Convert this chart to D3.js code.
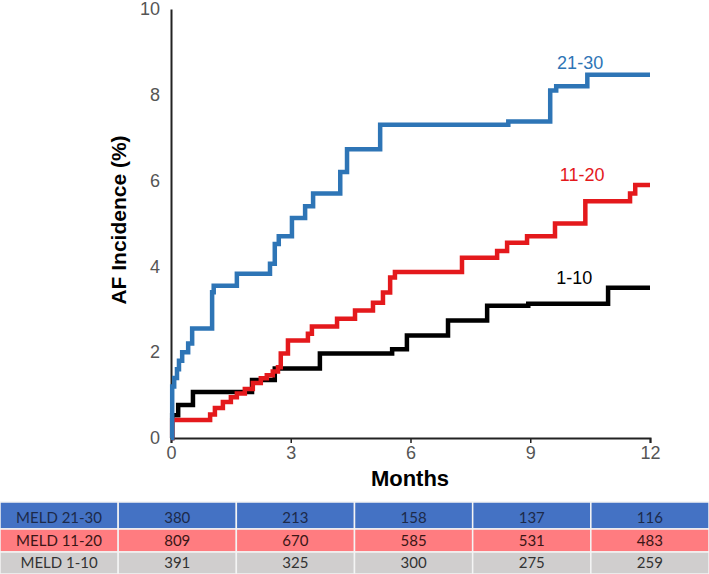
<!DOCTYPE html>
<html>
<head>
<meta charset="utf-8">
<script src="https://cdn.jsdelivr.net/npm/d3@7"></script>
<style>
  body { margin: 0; background: #fff; }
  svg { display: block; font-family: "Liberation Sans", Arial, sans-serif; }
</style>
</head>
<body>
<svg id="chart" width="709" height="574"></svg>
<script>
// step points [month, % incidence]
const meld2130 = [[0,0],[0.03,1.2],[0.08,1.4],[0.15,1.6],[0.2,1.8],[0.28,2.0],[0.43,2.2],[0.53,2.55],[1.03,3.4],[1.07,3.55],[1.65,3.83],[2.48,4.06],[2.6,4.52],[2.7,4.7],[3.03,5.13],[3.36,5.4],[3.56,5.7],[4.24,6.2],[4.41,6.73],[5.24,7.3],[8.45,7.38],[9.5,8.1],[9.65,8.2],[10.43,8.47],[12,8.47]];
const meld1120 = [[0,0],[0.03,0.42],[0.98,0.55],[1.1,0.7],[1.3,0.84],[1.5,0.95],[1.65,1.04],[1.85,1.14],[2.05,1.28],[2.25,1.39],[2.4,1.46],[2.55,1.55],[2.68,1.65],[2.75,1.97],[2.93,2.27],[3.43,2.43],[3.53,2.6],[4.16,2.78],[4.61,2.97],[5.06,3.15],[5.31,3.39],[5.49,3.74],[5.61,3.87],[7.29,4.2],[8.17,4.36],[8.42,4.55],[8.92,4.7],[9.62,5.0],[10.38,5.52],[11.5,5.7],[11.63,5.9],[12,5.9]];
const meld110 = [[0,0],[0.03,0.53],[0.18,0.77],[0.55,1.07],[2.03,1.35],[2.6,1.62],[3.73,1.97],[5.54,2.07],[5.91,2.39],[6.94,2.74],[7.92,3.08],[8.95,3.13],[10.95,3.5],[12,3.5]];

const seriesNames = ["21-30", "11-20", "1-10"];
const seriesColors = ["#2e75b6", "#e4191c", "#000000"];
const labelPos = [[10.25, 8.6], [10.3, 6.0], [10.1, 3.58]];

const xTicks = [0, 3, 6, 9, 12];
const yTicks = [0, 2, 4, 6, 8, 10];

// number at risk table
const tableRows = ["MELD 21-30", "MELD 11-20", "MELD 1-10"];
const risk2130 = [380, 213, 158, 137, 116];
const risk1120 = [809, 670, 585, 531, 483];
const risk110 = [391, 325, 300, 275, 259];
const rowFills = ["#4472c4", "#ff7c80", "#d0cece"];
const rowText = ["#1c2a4a", "#3a1616", "#333333"];

const svg = d3.select("#chart");
const x = d3.scaleLinear().domain([0, 12]).range([171, 650]);
const y = d3.scaleLinear().domain([0, 10]).range([438, 9]);

// axes
const xAxis = svg.append("g")
  .attr("transform", "translate(0," + y(0) + ")")
  .call(d3.axisBottom(x).tickValues(xTicks).tickSize(5).tickPadding(3));
xAxis.select(".domain").attr("stroke", "#222").attr("stroke-width", 2);
xAxis.selectAll(".tick line").attr("stroke", "#222").attr("stroke-width", 1.5);
xAxis.selectAll(".tick text").attr("fill", "#555").style("font-size", "18px");

const yAxis = svg.append("g")
  .attr("transform", "translate(" + x(0) + ",0)")
  .call(d3.axisLeft(y).tickValues(yTicks).tickSize(0).tickPadding(11));
yAxis.select(".domain").attr("stroke", "#222").attr("stroke-width", 2);
yAxis.selectAll(".tick text").attr("fill", "#555").style("font-size", "18px");

svg.append("text")
  .attr("transform", "translate(126,220) rotate(-90)")
  .attr("text-anchor", "middle")
  .style("font-size", "21px").style("font-weight", "bold")
  .text("AF  Incidence  (%)");

svg.append("text")
  .attr("x", 410).attr("y", 486)
  .attr("text-anchor", "middle")
  .style("font-size", "22px").style("font-weight", "bold")
  .text("Months");

// step curves
const line = d3.line()
  .x(d => x(d[0]))
  .y(d => y(d[1]))
  .curve(d3.curveStepAfter);

const allSeries = [meld2130, meld1120, meld110];
allSeries.slice().reverse().forEach((s, j) => {
  const i = allSeries.length - 1 - j;
  svg.append("path")
    .datum(s)
    .attr("d", line)
    .attr("fill", "none")
    .attr("stroke", seriesColors[i])
    .attr("stroke-width", 4.5);
});

seriesNames.forEach((n, i) => {
  svg.append("text")
    .attr("x", x(labelPos[i][0])).attr("y", y(labelPos[i][1]))
    .attr("text-anchor", "middle")
    .attr("fill", seriesColors[i])
    .style("font-size", "18px")
    .text(n);
});

// table
const riskData = [risk2130, risk1120, risk110];
const rowTop = [502, 529, 552];
const rowH = [27, 23, 22];
const colW = 709 / 6;

riskData.forEach((vals, r) => {
  const cells = [tableRows[r]].concat(vals);
  const g = svg.append("g");
  g.selectAll("rect")
    .data(cells)
    .enter().append("rect")
    .attr("x", (d, c) => c * colW)
    .attr("y", rowTop[r])
    .attr("width", colW)
    .attr("height", rowH[r])
    .attr("fill", rowFills[r])
    .attr("stroke", "#f4f4f4")
    .attr("stroke-width", 1.5);
  g.selectAll("text")
    .data(cells)
    .enter().append("text")
    .attr("x", (d, c) => c * colW + colW / 2)
    .attr("y", rowTop[r] + rowH[r] - 6)
    .attr("text-anchor", "middle")
    .attr("fill", rowText[r])
    .style("font-family", "Lato, 'Open Sans', sans-serif")
    .style("font-size", "15px")
    .text(d => d);
});
</script>
</body>
</html>
